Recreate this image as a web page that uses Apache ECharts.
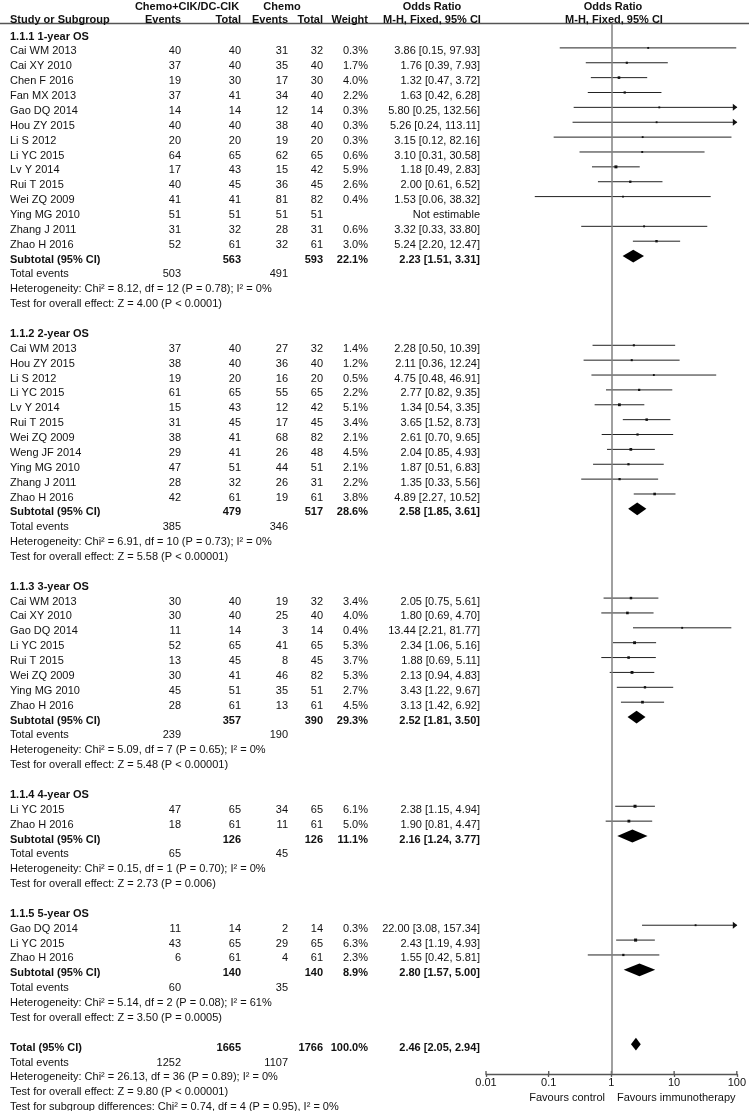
<!DOCTYPE html>
<html><head><meta charset="utf-8">
<script src="https://cdn.jsdelivr.net/npm/echarts/dist/echarts.min.js"></script>
<style>html,body{margin:0;padding:0;background:#fff}#c{width:749px;height:1111px}</style>
</head><body><div id="c"></div>
<script>
const groupTitles = ['1.1.1 1-year OS','1.1.2 2-year OS','1.1.3 3-year OS','1.1.4 4-year OS','1.1.5 5-year OS'];
const studyGroup = [0,0,0,0,0,0,0,0,0,0,0,0,0,0, 1,1,1,1,1,1,1,1,1,1,1, 2,2,2,2,2,2,2,2, 3,3, 4,4,4];
const studyNames = ['Cai WM 2013','Cai XY 2010','Chen F 2016','Fan MX 2013','Gao DQ 2014','Hou ZY 2015','Li S 2012','Li YC 2015','Lv Y 2014','Rui T 2015','Wei ZQ 2009','Ying MG 2010','Zhang J 2011','Zhao H 2016',
  'Cai WM 2013','Hou ZY 2015','Li S 2012','Li YC 2015','Lv Y 2014','Rui T 2015','Wei ZQ 2009','Weng JF 2014','Ying MG 2010','Zhang J 2011','Zhao H 2016',
  'Cai WM 2013','Cai XY 2010','Gao DQ 2014','Li YC 2015','Rui T 2015','Wei ZQ 2009','Ying MG 2010','Zhao H 2016',
  'Li YC 2015','Zhao H 2016',
  'Gao DQ 2014','Li YC 2015','Zhao H 2016'];
const expEvents = [40,37,19,37,14,40,20,64,17,40,41,51,31,52, 37,38,19,61,15,31,38,29,47,28,42, 30,30,11,52,13,30,45,28, 47,18, 11,43,6];
const expTotal  = [40,40,30,41,14,40,20,65,43,45,41,51,32,61, 40,40,20,65,43,45,41,41,51,32,61, 40,40,14,65,45,41,51,61, 65,61, 14,65,61];
const ctlEvents = [31,35,17,34,12,38,19,62,15,36,81,51,28,32, 27,36,16,55,12,17,68,26,44,26,19, 19,25,3,41,8,46,35,13, 34,11, 2,29,4];
const ctlTotal  = [32,40,30,40,14,40,20,65,42,45,82,51,31,61, 32,40,20,65,42,45,82,48,51,31,61, 32,40,14,65,45,82,51,61, 65,61, 14,65,61];
const weights   = [0.3,1.7,4.0,2.2,0.3,0.3,0.3,0.6,5.9,2.6,0.4,null,0.6,3.0, 1.4,1.2,0.5,2.2,5.1,3.4,2.1,4.5,2.1,2.2,3.8, 3.4,4.0,0.4,5.3,3.7,5.3,2.7,4.5, 6.1,5.0, 0.3,6.3,2.3];
const orEst  = [3.86,1.76,1.32,1.63,5.80,5.26,3.15,3.10,1.18,2.00,1.53,null,3.32,5.24, 2.28,2.11,4.75,2.77,1.34,3.65,2.61,2.04,1.87,1.35,4.89, 2.05,1.80,13.44,2.34,1.88,2.13,3.43,3.13, 2.38,1.90, 22.00,2.43,1.55];
const orLow  = [0.15,0.39,0.47,0.42,0.25,0.24,0.12,0.31,0.49,0.61,0.06,null,0.33,2.20, 0.50,0.36,0.48,0.82,0.54,1.52,0.70,0.85,0.51,0.33,2.27, 0.75,0.69,2.21,1.06,0.69,0.94,1.22,1.42, 1.15,0.81, 3.08,1.19,0.42];
const orHigh = [97.93,7.93,3.72,6.28,132.56,113.11,82.16,30.58,2.83,6.52,38.32,null,33.80,12.47, 10.39,12.24,46.91,9.35,3.35,8.73,9.65,4.93,6.83,5.56,10.52, 5.61,4.70,81.77,5.16,5.11,4.83,9.67,6.92, 4.94,4.47, 157.34,4.93,5.81];

const subExpTotal = [563,479,357,126,140];
const subCtlTotal = [593,517,390,126,140];
const subWeight   = [22.1,28.6,29.3,11.1,8.9];
const subOR   = [2.23,2.58,2.52,2.16,2.80];
const subLow  = [1.51,1.85,1.81,1.24,1.57];
const subHigh = [3.31,3.61,3.50,3.77,5.00];
const subExpEvents = [503,385,239,65,60];
const subCtlEvents = [491,346,190,45,35];
const subHet = [
  'Heterogeneity: Chi\u00b2 = 8.12, df = 12 (P = 0.78); I\u00b2 = 0%',
  'Heterogeneity: Chi\u00b2 = 6.91, df = 10 (P = 0.73); I\u00b2 = 0%',
  'Heterogeneity: Chi\u00b2 = 5.09, df = 7 (P = 0.65); I\u00b2 = 0%',
  'Heterogeneity: Chi\u00b2 = 0.15, df = 1 (P = 0.70); I\u00b2 = 0%',
  'Heterogeneity: Chi\u00b2 = 5.14, df = 2 (P = 0.08); I\u00b2 = 61%'];
const subEffect = [
  'Test for overall effect: Z = 4.00 (P < 0.0001)',
  'Test for overall effect: Z = 5.58 (P < 0.00001)',
  'Test for overall effect: Z = 5.48 (P < 0.00001)',
  'Test for overall effect: Z = 2.73 (P = 0.006)',
  'Test for overall effect: Z = 3.50 (P = 0.0005)'];

const totalExpTotal = 1665, totalCtlTotal = 1766, totalWeight = 100.0;
const totalOR = [2.46, 2.05, 2.94];
const totalEvents = [1252, 1107];
const totalNotes = [
  'Heterogeneity: Chi\u00b2 = 26.13, df = 36 (P = 0.89); I\u00b2 = 0%',
  'Test for overall effect: Z = 9.80 (P < 0.00001)',
  'Test for subgroup differences: Chi\u00b2 = 0.74, df = 4 (P = 0.95), I\u00b2 = 0%'];

const tickValues = [0.01, 0.1, 1, 10, 100];
const tickLabels = ['0.01','0.1','1','10','100'];
const axisCaptions = ['Favours control','Favours immunotherapy'];

// ---- build rows ----
const rows = [];
let k = 0;
const studyRows = [], diamondRows = [];
groupTitles.forEach((title, g) => {
  rows.push({t:'group', k, text:title}); k++;
  studyGroup.forEach((sg, i) => {
    if (sg !== g) return;
    rows.push({t:'study', k, i});
    if (orEst[i] != null) studyRows.push([orEst[i], orLow[i], orHigh[i], k, weights[i]]);
    k++;
  });
  rows.push({t:'sub', k, g}); diamondRows.push([subOR[g], subLow[g], subHigh[g], k]); k++;
  rows.push({t:'events', k, a:subExpEvents[g], b:subCtlEvents[g]}); k++;
  rows.push({t:'note', k, text:subHet[g]}); k++;
  rows.push({t:'note', k, text:subEffect[g]}); k++;
  k++;
});
rows.push({t:'total', k}); diamondRows.push([totalOR[0], totalOR[1], totalOR[2], k]); k++;
rows.push({t:'events', k, a:totalEvents[0], b:totalEvents[1]}); k++;
totalNotes.forEach(n => { rows.push({t:'note', k, text:n}); k++; });

const FONT = '11px "Liberation Sans", Arial, sans-serif';
const BFONT = 'bold 11px "Liberation Sans", Arial, sans-serif';
const COL = {name:10, ee:181, et:241, ce:288, ct:323, w:368, or:480};
const TXT = '#111';
const fmtOR = (o,l,h) => o.toFixed(2) + ' [' + l.toFixed(2) + ', ' + h.toFixed(2) + ']';
function txt(x, y, s, align, bold) {
  return {type:'text', x, y, style:{text:String(s), fill:TXT, font: bold?BFONT:FONT, align, verticalAlign:'middle', textAlign:align, textVerticalAlign:'middle'}};
}

const chart = echarts.init(document.getElementById('c'), null, {renderer:'canvas'});
const TOPROW = -0.6, BOTROW = 70;
const ROWH = 14.87;
chart.setOption({
  animation:false,
  backgroundColor:'#fff',
  grid:{left:486, right:11, top:24.1, height:(BOTROW-TOPROW)*ROWH, containLabel:false},
  xAxis:{
    type:'log', logBase:10, min:0.01, max:100, position:'bottom', splitLine:{show:false},
    axisLine:{show:true, onZero:false, lineStyle:{color:'#555', width:1.3}},
    axisTick:{show:true, length:3, lineStyle:{color:'#555', width:1.3}},
    axisLabel:{show:true, margin:4, color:TXT, fontSize:11, fontFamily:'"Liberation Sans", Arial, sans-serif',
      formatter: v => tickLabels[Math.round(Math.log10(v)) + 2]}
  },
  yAxis:{type:'value', min:TOPROW, max:BOTROW, inverse:true, show:false},
  graphic:[
    {type:'line', shape:{x1:0, y1:23.5, x2:749, y2:23.5}, style:{stroke:'#555', lineWidth:1.4}},
    txt(187, 6.5, 'Chemo+CIK/DC-CIK', 'center', true),
    txt(282, 6.5, 'Chemo', 'center', true),
    txt(432, 6.5, 'Odds Ratio', 'center', true),
    txt(613, 6.5, 'Odds Ratio', 'center', true),
    txt(COL.name, 19.5, 'Study or Subgroup', 'left', true),
    txt(COL.ee, 19.5, 'Events', 'right', true),
    txt(COL.et, 19.5, 'Total', 'right', true),
    txt(COL.ce, 19.5, 'Events', 'right', true),
    txt(COL.ct, 19.5, 'Total', 'right', true),
    txt(COL.w, 19.5, 'Weight', 'right', true),
    txt(432, 19.5, 'M-H, Fixed, 95% CI', 'center', true),
    txt(614, 19.5, 'M-H, Fixed, 95% CI', 'center', true),
    txt(605, 1098, axisCaptions[0], 'right', false),
    txt(617, 1098, axisCaptions[1], 'left', false)
  ],
  series:[
    {
      type:'custom', name:'table', silent:true, clip:false,
      data: rows.map(r => [1, r.k]),
      encode:{x:0, y:1},
      renderItem:(params, api) => {
        const r = rows[params.dataIndex];
        const y = api.coord([1, r.k])[1] + 3.5;
        const ch = [];
        if (r.t === 'group') ch.push(txt(COL.name, y, r.text, 'left', true));
        else if (r.t === 'study') {
          const i = r.i;
          ch.push(txt(COL.name, y, studyNames[i], 'left'));
          ch.push(txt(COL.ee, y, expEvents[i], 'right'));
          ch.push(txt(COL.et, y, expTotal[i], 'right'));
          ch.push(txt(COL.ce, y, ctlEvents[i], 'right'));
          ch.push(txt(COL.ct, y, ctlTotal[i], 'right'));
          if (weights[i] != null) ch.push(txt(COL.w, y, weights[i].toFixed(1) + '%', 'right'));
          ch.push(txt(COL.or, y, orEst[i] != null ? fmtOR(orEst[i], orLow[i], orHigh[i]) : 'Not estimable', 'right'));
        } else if (r.t === 'sub') {
          const g = r.g;
          ch.push(txt(COL.name, y, 'Subtotal (95% CI)', 'left', true));
          ch.push(txt(COL.et, y, subExpTotal[g], 'right', true));
          ch.push(txt(COL.ct, y, subCtlTotal[g], 'right', true));
          ch.push(txt(COL.w, y, subWeight[g].toFixed(1) + '%', 'right', true));
          ch.push(txt(COL.or, y, fmtOR(subOR[g], subLow[g], subHigh[g]), 'right', true));
        } else if (r.t === 'events') {
          ch.push(txt(COL.name, y, 'Total events', 'left'));
          ch.push(txt(COL.ee, y, r.a, 'right'));
          ch.push(txt(COL.ce, y, r.b, 'right'));
        } else if (r.t === 'note') {
          ch.push(txt(COL.name, y, r.text, 'left'));
        } else if (r.t === 'total') {
          ch.push(txt(COL.name, y, 'Total (95% CI)', 'left', true));
          ch.push(txt(COL.et, y, totalExpTotal, 'right', true));
          ch.push(txt(COL.ct, y, totalCtlTotal, 'right', true));
          ch.push(txt(COL.w, y, totalWeight.toFixed(1) + '%', 'right', true));
          ch.push(txt(COL.or, y, fmtOR(totalOR[0], totalOR[1], totalOR[2]), 'right', true));
        }
        return {type:'group', children:ch};
      }
    },
    {
      type:'custom', name:'ticksUp', silent:true, clip:false,
      data: tickValues.map(v => [v, BOTROW]),
      encode:{x:0, y:1},
      renderItem:(params, api) => {
        const p = api.coord([api.value(0), api.value(1)]);
        return {type:'line', shape:{x1:p[0], y1:p[1]-3, x2:p[0], y2:p[1]}, style:{stroke:'#555', lineWidth:1.3}};
      }
    },
    {
      type:'custom', name:'studies', silent:true, clip:false,
      data: studyRows,
      encode:{x:0, y:3},
      renderItem:(params, api) => {
        const o = api.value(0), lo = api.value(1), hi = api.value(2), row = api.value(3), w = api.value(4);
        const p = api.coord([o, row]);
        const y = p[1];
        const xl = api.coord([Math.max(lo, 0.01), row])[0];
        const xh = api.coord([Math.min(hi, 100), row])[0];
        const s = 1.8 + w * 0.2;
        const ch = [
          {type:'line', shape:{x1:xl, y1:y, x2:xh, y2:y}, style:{stroke:'#222', lineWidth:1}},
          {type:'rect', shape:{x:p[0]-s/2, y:y-s/2, width:s, height:s}, style:{fill:'#111'}}
        ];
        if (hi > 100) ch.push({type:'polygon', shape:{points:[[xh+0.5,y],[xh-4,y-3.5],[xh-4,y+3.5]]}, style:{fill:'#111'}});
        if (lo < 0.01) ch.push({type:'polygon', shape:{points:[[xl-0.5,y],[xl+4,y-3.5],[xl+4,y+3.5]]}, style:{fill:'#111'}});
        return {type:'group', children:ch};
      }
    },
    {
      type:'custom', name:'diamonds', silent:true, clip:false,
      data: diamondRows,
      encode:{x:0, y:3},
      renderItem:(params, api) => {
        const o = api.value(0), lo = api.value(1), hi = api.value(2), row = api.value(3);
        const p = api.coord([o, row]);
        const xl = api.coord([lo, row])[0], xh = api.coord([hi, row])[0];
        const h = 6.4;
        return {type:'polygon', shape:{points:[[xl,p[1]],[p[0],p[1]-h],[xh,p[1]],[p[0],p[1]+h]]}, style:{fill:'#000'}};
      },
      markLine:{silent:true, symbol:'none', label:{show:false}, lineStyle:{color:'#808080', width:1.5, type:'solid'}, data:[{xAxis:1}]}
    }
  ]
});
</script></body></html>
